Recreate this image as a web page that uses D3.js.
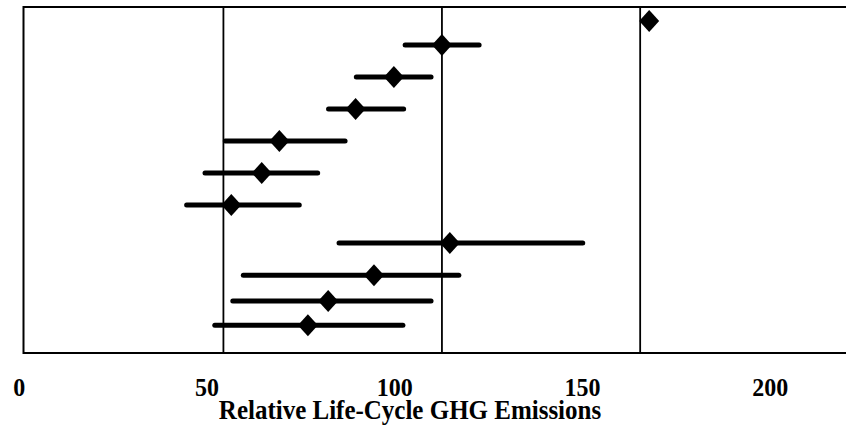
<!DOCTYPE html>
<html>
<head>
<meta charset="utf-8">
<script src="https://cdn.jsdelivr.net/npm/d3@7/dist/d3.min.js"></script>
<style>
  html, body { margin: 0; padding: 0; background: #fff; }
  svg { display: block; }
  text { font-family: "Liberation Serif", "Times New Roman", serif; font-weight: bold; fill: #000; }
</style>
</head>
<body>
<div id="chart"></div>
<script>
// Relative life-cycle GHG emissions: central estimate (diamond) with range (bar) per pathway
const rowPos  = [4.05, 10.98, 20.23, 29.48, 38.73, 47.98, 57.23, 68.21, 77.54, 84.97, 91.99];
const central = [167.9, 112.7, 99.9, 89.7, 69.4, 64.7, 56.6, 114.8, 94.6, 82.4, 77.0];
const lowVals = [null, 102.9, 89.9, 82.5, 55.0, 49.6, 44.7, 85.3, 59.8, 57.0, 52.2];
const highVals = [null, 122.6, 109.8, 102.5, 86.9, 79.6, 74.7, 150.2, 117.2, 109.8, 102.3];

// vertical reference lines
const refLines = [54.5, 112.7, 165.5];

const tickValues = [0, 50, 100, 150, 200];
const axisTitle = "Relative Life-Cycle GHG Emissions";

const W = 846, H = 431;
const frame = { left: 23.5, top: 7, right: 900, bottom: 353 };

const x = d3.scaleLinear().domain([0, 200]).range([18.8, 769.7]);
const y = d3.scaleLinear().domain([0, 100]).range([frame.top, frame.bottom]);

const svg = d3.select("#chart").append("svg")
  .attr("width", W).attr("height", H);

// plot frame
svg.append("rect")
  .attr("x", frame.left).attr("y", frame.top)
  .attr("width", frame.right - frame.left).attr("height", frame.bottom - frame.top)
  .attr("fill", "none").attr("stroke", "#000").attr("stroke-width", 2);

// reference lines
svg.append("g").selectAll("line").data(refLines).join("line")
  .attr("x1", d => x(d)).attr("x2", d => x(d))
  .attr("y1", frame.top).attr("y2", frame.bottom)
  .attr("stroke", "#000").attr("stroke-width", 1.8);

const rows = rowPos.map((p, i) => ({ p, c: central[i], lo: lowVals[i], hi: highVals[i] }));

// range bars
svg.append("g").selectAll("line").data(rows.filter(d => d.lo != null)).join("line")
  .attr("x1", d => x(d.lo)).attr("x2", d => x(d.hi))
  .attr("y1", d => y(d.p)).attr("y2", d => y(d.p))
  .attr("stroke", "#000").attr("stroke-width", 5).attr("stroke-linecap", "round");

// central estimate diamonds
const diamond = "M0,-11L10,0L0,11L-10,0Z";
svg.append("g").selectAll("path").data(rows).join("path")
  .attr("d", diamond)
  .attr("transform", d => `translate(${x(d.c)},${y(d.p)})`)
  .attr("fill", "#000");

// x axis labels
const axis = svg.append("g")
  .attr("transform", "translate(0,396)")
  .call(d3.axisBottom(x).tickValues(tickValues).tickSize(0).tickPadding(0));
axis.select(".domain").remove();
axis.selectAll("text")
  .attr("y", 0).attr("dy", 0)
  .attr("transform", "scale(1,1.08)")
  .style("font-family", "'Liberation Serif', 'Times New Roman', serif")
  .style("font-weight", "bold")
  .style("font-size", "24px");

// axis title
svg.append("text")
  .attr("text-anchor", "middle")
  .attr("transform", "translate(410,419) scale(1,1.08)")
  .style("font-size", "25px")
  .text(axisTitle);
</script>
</body>
</html>
